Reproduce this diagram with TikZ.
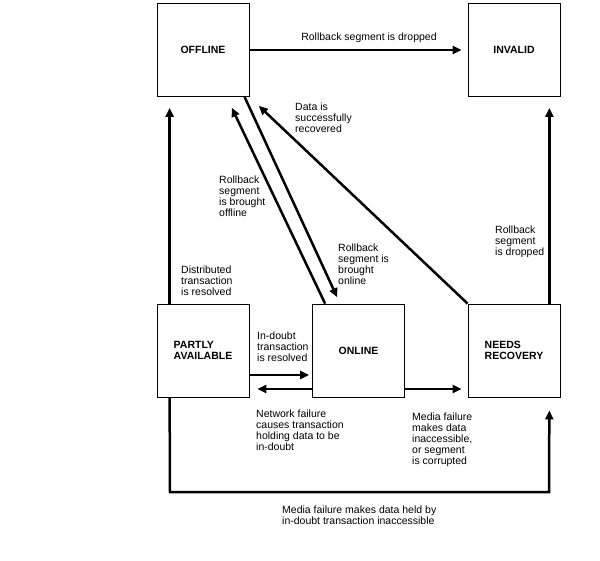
\documentclass[tikz,border=0pt]{standalone}
\usepackage{fontspec}
\setmainfont{Liberation Sans}
\usetikzlibrary{arrows.meta}

\begin{document}
\begin{tikzpicture}[x=1pt,y=-1pt,
  state/.style={draw,line width=0.8pt,minimum width=92pt,minimum height=93pt,inner sep=0pt,align=left,font=\fontsize{10.5}{11.5}\selectfont\bfseries},
  arr/.style={line width=2.5pt,-{Triangle[length=9pt,width=8pt]}},
  lbl/.style={anchor=west,align=left,inner sep=0pt,font=\fontsize{10.5}{11}\selectfont}]
  \useasboundingbox (0,0) rectangle (600,560);

  \node [state] (offline)  at (203,50)    {OFFLINE};
  \node [state] (invalid)  at (514,50)    {INVALID};
  \node [state] (partly)   at (203,350.5) {PARTLY\\AVAILABLE};
  \node [state] (online)   at (358.5,350.5) {ONLINE};
  \node [state] (recovery) at (514,350.5) {NEEDS\\RECOVERY};

  \coordinate (botl) at (170,492);
  \coordinate (botr) at (549,492);

  \draw [arr,shorten >=6pt]  (offline.east) -- (invalid.west);
  \draw [arr,shorten >=11pt] ([xshift=13pt]partly.north west) -- ([xshift=13pt]offline.south west);
  \draw [arr,shorten >=12pt] ([xshift=13pt]online.north west) -- ([xshift=70pt]offline.south west);
  \draw [arr,shorten >=7pt]  ([xshift=88pt]offline.south west) -- ([xshift=28pt]online.north west);
  \draw [arr,shorten >=13pt] (recovery.north west) -- (offline.south east);
  \draw [arr,shorten >=11pt] ([xshift=-11pt]recovery.north east) -- ([xshift=-11pt]invalid.south east);
  \draw [arr,shorten >=3pt]  ([yshift=-24.5pt]partly.east) -- ([yshift=-24.5pt]online.west);
  \draw [arr,shorten >=8pt]  ([yshift=-38.5pt]online.west) -- ([yshift=-38.5pt]partly.east);
  \draw [arr,shorten >=6pt]  ([yshift=-38.5pt]online.east) -- ([yshift=-38.5pt]recovery.west);
  \draw [arr,shorten >=13pt] ([xshift=13pt]partly.south west) -- (botl) -- (botr) -- ([xshift=-11pt]recovery.south east);

  % labels
  \node [lbl,anchor=center] (ldropped) at (369,38) {Rollback segment is dropped};
  \node [lbl] (lrecovered) at (295,118) {Data is\\successfully\\recovered};
  \node [lbl] (loffline)   at (219,196) {Rollback\\segment\\is brought\\offline};
  \node [lbl] (lonline)    at (338,264) {Rollback\\segment is\\brought\\online};
  \node [lbl] (lresolved)  at (181,281) {Distributed\\transaction\\is resolved};
  \node [lbl] (ldropped2)  at (495,242) {Rollback\\segment\\is dropped};
  \node [lbl] (lindoubt)   at (257,347) {In-doubt\\transaction\\is resolved};
  \node [lbl] (lnetwork)   at (256,430) {Network failure\\causes transaction\\holding data to be\\in-doubt};
  \node [lbl] (lmedia)     at (412,440) {Media failure\\makes data\\inaccessible,\\or segment\\is corrupted};
  \node [lbl] (lheld)      at (282,515) {Media failure makes data held by\\in-doubt transaction inaccessible};
\end{tikzpicture}
\end{document}
